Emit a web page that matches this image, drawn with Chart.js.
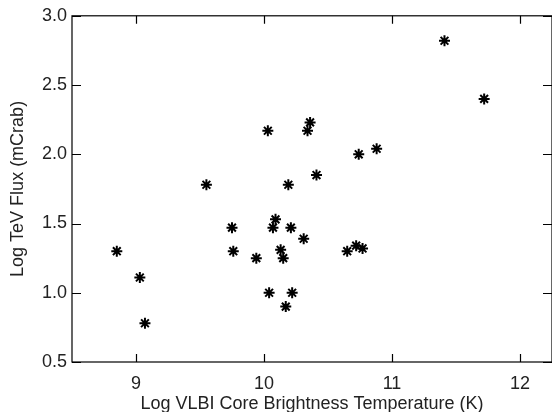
<!DOCTYPE html>
<html>
<head>
<meta charset="utf-8">
<script src="https://cdn.jsdelivr.net/npm/chart.js@4/dist/chart.umd.min.js"></script>
<style>
  html, body { margin: 0; padding: 0; background: #fff; overflow: hidden; }
  #wrap { width: 552px; height: 412px; overflow: hidden; }
  canvas { display: block; }
</style>
</head>
<body>
<div id="wrap"><canvas id="c" width="560" height="412"></canvas></div>
<script>
// ─── data ───
const logTb = [8.85, 9.03, 9.07, 9.55, 9.75, 9.76, 9.94, 10.03, 10.04, 10.07, 10.09, 10.13, 10.15, 10.17,
  10.19, 10.21, 10.22, 10.31, 10.34, 10.36, 10.41, 10.65, 10.72, 10.74, 10.77, 10.88, 11.41, 11.72];
const logFlux = [1.30, 1.11, 0.78, 1.78, 1.47, 1.30, 1.25, 2.17, 1.00, 1.47, 1.53, 1.31, 1.25, 0.90,
  1.78, 1.47, 1.00, 1.39, 2.17, 2.23, 1.85, 1.30, 1.34, 2.00, 1.32, 2.04, 2.82, 2.40];
const xTicks = [9, 10, 11, 12];
const yTicks = [0.5, 1.0, 1.5, 2.0, 2.5, 3.0];
const xTitle = "Log VLBI Core Brightness Temperature (K)";
const yTitle = "Log TeV Flux (mCrab)";

const font = { family: "'Liberation Sans', Arial, sans-serif", size: 18 };
const ink = "#222";

// frame + inward ticks, IDL style
const frame = {
  id: "frame",
  afterDatasetsDraw(chart) {
    const { ctx, chartArea: a, scales } = chart;
    ctx.save();
    ctx.strokeStyle = "#000";
    ctx.lineWidth = 1.2;
    ctx.strokeRect(a.left, a.top, a.right - a.left, a.bottom - a.top);
    ctx.beginPath();
    scales.x.ticks.forEach(t => {
      const px = Math.round(scales.x.getPixelForValue(t.value)) + 0.5;
      ctx.moveTo(px, a.bottom); ctx.lineTo(px, a.bottom - 8);
      ctx.moveTo(px, a.top); ctx.lineTo(px, a.top + 8);
    });
    scales.y.ticks.forEach(t => {
      const py = Math.round(scales.y.getPixelForValue(t.value)) + 0.5;
      ctx.moveTo(a.left, py); ctx.lineTo(a.left + 9, py);
      ctx.moveTo(a.right, py); ctx.lineTo(a.right - 9, py);
    });
    ctx.stroke();
    ctx.restore();
  }
};

new Chart(document.getElementById("c"), {
  type: "scatter",
  data: {
    datasets: [{
      data: logTb.map((x, i) => ({ x, y: logFlux[i] })),
      pointStyle: "star",
      pointRadius: 5.5,
      pointBorderWidth: 2,
      borderColor: "#000",
      backgroundColor: "#000"
    }]
  },
  options: {
    responsive: false,
    animation: false,
    layout: { padding: { top: 7, right: 8, left: 0, bottom: 0 } },
    plugins: { legend: { display: false }, tooltip: { enabled: false } },
    scales: {
      x: {
        type: "linear", min: 8.5, max: 12.25,
        afterBuildTicks: s => { s.ticks = xTicks.map(v => ({ value: v })); },
        afterFit: s => { s.height = 50; },
        grid: { display: false, drawTicks: false },
        border: { display: false },
        ticks: { color: ink, font, padding: 11, maxRotation: 0, callback: v => String(v) },
        title: { display: true, text: xTitle, color: ink, font, padding: { top: 0, bottom: -3 } }
      },
      y: {
        type: "linear", min: 0.5, max: 3.0,
        afterBuildTicks: s => { s.ticks = yTicks.map(v => ({ value: v })); },
        afterFit: s => { s.width = 72; },
        grid: { display: false, drawTicks: false },
        border: { display: false },
        ticks: { color: ink, font, padding: 5, callback: v => v.toFixed(1) },
        title: { display: true, text: yTitle, color: ink, font, padding: { top: 7, bottom: 0 } }
      }
    }
  },
  plugins: [frame]
});
</script>
</body>
</html>
